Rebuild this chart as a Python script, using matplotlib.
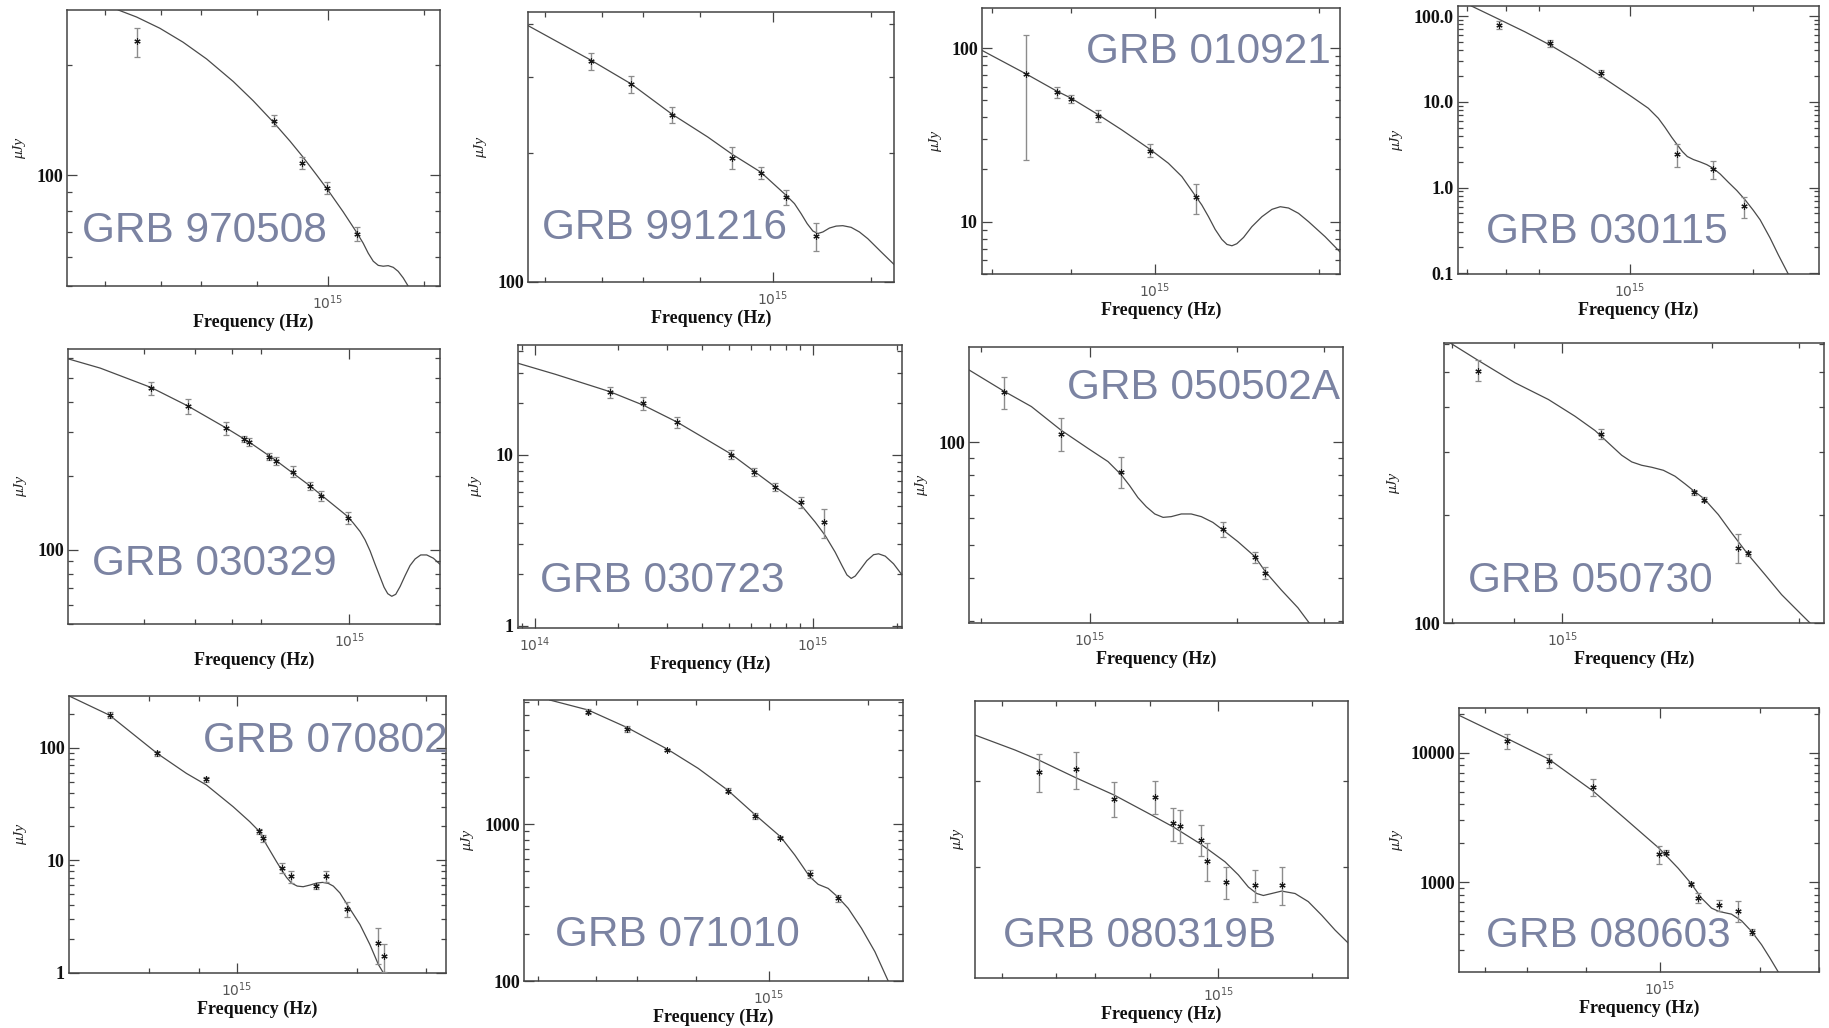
import numpy as np
import matplotlib
matplotlib.use("Agg")
import matplotlib.pyplot as plt
from matplotlib.ticker import FixedLocator, FixedFormatter, NullFormatter, LogLocator

# ---------------------------------------------------------------- data
grb_names = ["GRB 970508", "GRB 991216", "GRB 010921", "GRB 030115",
             "GRB 030329", "GRB 030723", "GRB 050502A", "GRB 050730",
             "GRB 070802", "GRB 071010", "GRB 080319B", "GRB 080603"]

# photometry: frequency (Hz), flux density (uJy), 1-sigma error (uJy)
nu_970508 = [2.51e14, 6.77e14, 8.29e14, 9.95e14, 1.23e15]
f_970508 = [231.6, 141, 108, 92.3, 69.3]
e_970508 = [21, 5, 4, 3.5, 3]

nu_991216 = [2.78e14, 3.68e14, 4.90e14, 7.51e14, 9.17e14, 1.099e15, 1.358e15]
f_991216 = [327, 289, 245.5, 195, 179.6, 157.8, 127.8]
e_991216 = [15, 13, 11, 11.5, 6, 6.3, 9.5]

nu_010921 = [5.78e14, 6.59e14, 7.0e14, 7.86e14, 9.79e14, 1.19e15]
f_010921 = [71.1, 55.7, 51.0, 40.7, 25.7, 13.8]
e_010921 = [48.5, 4.3, 3, 3, 2.2, 2.7]

nu_030115 = [4.80e14, 6.39e14, 8.49e14, 1.305e15, 1.591e15, 1.90e15]
f_030115 = [78.6, 48.1, 21.5, 2.47, 1.66, 0.611]
e_030115 = [8.5, 4.5, 2.1, 0.74, 0.39, 0.165]

nu_030329 = [2.12e14, 2.82e14, 3.82e14, 4.37e14, 4.57e14, 5.35e14, 5.61e14,
             6.42e14, 7.32e14, 7.99e14, 9.87e14]
f_030329 = [454, 383, 312, 282.6, 274, 239.4, 230, 208, 182, 165.8, 135.3]
e_030329 = [29, 26, 18, 9, 10, 7.5, 9.3, 11, 7.4, 8.3, 7.8]

nu_030723 = [1.86e14, 2.45e14, 3.24e14, 5.06e14, 6.14e14, 7.32e14, 9.08e14, 1.10e15]
f_030723 = [23.1, 19.9, 15.4, 10.0, 7.91, 6.46, 5.28, 4.03]
e_030723 = [1.8, 1.8, 1.2, 0.6, 0.4, 0.33, 0.4, 0.77]

nu_050502a = [6.68e14, 8.73e14, 1.16e15, 1.868e15, 2.17e15, 2.28e15]
f_050502a = [140.1, 105.8, 82.1, 55.6, 46.1, 41.4]
e_050502a = [15, 11.6, 8.4, 2.9, 1.7, 1.7]

nu_050730 = [6.77e14, 1.197e15, 1.845e15, 1.93e15, 2.257e15, 2.37e15]
f_050730 = [506, 337, 231.6, 220.9, 162, 156.5]
e_050730 = [34, 11.7, 4, 4, 14.7, 2.7]

nu_070802 = [4.77e14, 6.29e14, 8.37e14, 1.136e15, 1.159e15, 1.294e15, 1.364e15,
             1.579e15, 1.674e15, 1.895e15, 2.269e15, 2.35e15]
f_070802 = [197.6, 89.1, 52.4, 18.1, 15.7, 8.49, 7.16, 5.84, 7.16, 3.67, 1.83, 1.40]
e_070802 = [12, 4.6, 2.3, 1.0, 1.07, 0.87, 0.9, 0.28, 0.8, 0.56, 0.65, 0.38]

nu_071010 = [2.835e14, 3.73e14, 4.92e14, 7.50e14, 9.11e14, 1.085e15, 1.33e15, 1.615e15]
f_071010 = [5236, 4060, 2982, 1640, 1130, 822, 482, 337]
e_071010 = [210, 160, 60, 65, 45, 18, 28, 16]

nu_080319b = [2.64e14, 3.47e14, 4.62e14, 6.25e14, 7.16e14, 7.52e14, 8.79e14,
              9.22e14, 1.056e15, 1.313e15, 1.60e15]
f_080319b = [52.7, 53.5, 45.0, 45.5, 38.8, 38.3, 35.2, 31.1, 27.4, 26.9, 26.9]
e_080319b = [5.8, 5.8, 4.6, 4.5, 3.8, 3.8, 3.2, 3.5, 2.6, 2.5, 3.0]

nu_080603 = [3.49e14, 4.65e14, 6.31e14, 9.95e14, 1.047e15, 1.239e15, 1.303e15,
             1.503e15, 1.718e15, 1.884e15]
f_080603 = [12224, 8680, 5443, 1642, 1690, 971, 762, 662, 602, 412.5]
e_080603 = [1580, 1080, 790, 250, 80, 40, 68, 62, 110, 20]

# best-fit afterglow models (frequency in Hz, flux in uJy)
mnu_970508 = [2.20e14, 2.51e14, 2.97e14, 3.51e14, 4.16e14, 5.04e14, 5.82e14, 6.77e14,
              7.59e14, 8.29e14, 9.19e14, 1.0e15, 1.114e15, 1.23e15, 1.287e15, 1.335e15,
              1.384e15, 1.435e15, 1.487e15, 1.542e15, 1.599e15, 1.657e15, 1.718e15,
              1.79e15]
mf_970508 = [282, 269.9, 251.5, 230.5, 207.5, 180.2, 159.7, 138.9, 124.0, 112.9, 100.4,
             91.0, 79.6, 69.8, 65.4, 61.4, 58.4, 56.9, 56.6, 56.8, 56.2, 54.8, 52.6, 49.6]

mnu_991216 = [1.78e14, 2.78e14, 3.68e14, 4.90e14, 6.32e14, 7.51e14, 9.17e14, 1.099e15,
              1.165e15, 1.221e15, 1.274e15, 1.326e15, 1.373e15, 1.423e15, 1.491e15,
              1.563e15, 1.638e15, 1.737e15, 1.842e15, 1.953e15, 2.147e15, 2.35e15]
mf_991216 = [396, 328.6, 289.7, 246.5, 217.8, 198.5, 180.5, 159.2, 152.3, 144.3, 136.8,
             131.5, 129.7, 130.8, 133.6, 135.0, 135.3, 134.1, 130.8, 126.2, 117.5, 109.9]

mnu_010921 = [4.80e14, 5.78e14, 6.59e14, 7.0e14, 7.86e14, 8.68e14, 9.79e14, 1.058e15,
              1.12e15, 1.19e15, 1.219e15, 1.254e15, 1.29e15, 1.327e15, 1.356e15,
              1.385e15, 1.414e15, 1.455e15, 1.507e15, 1.573e15, 1.641e15, 1.70e15,
              1.761e15, 1.837e15, 1.917e15, 2.056e15, 2.19e15]
mf_010921 = [96.9, 71.1, 56.5, 51.5, 41.3, 33.8, 26.1, 21.7, 18.2, 13.9, 12.48, 10.69,
             9.03, 7.91, 7.40, 7.27, 7.47, 8.12, 9.36, 10.69, 11.78, 12.2, 11.99, 11.17,
             10.0, 8.2, 6.7]

mnu_030115 = [4.11e14, 4.80e14, 5.54e14, 6.39e14, 7.48e14, 8.49e14, 1.009e15, 1.109e15,
              1.173e15, 1.217e15, 1.264e15, 1.305e15, 1.342e15, 1.38e15, 1.428e15,
              1.482e15, 1.539e15, 1.591e15, 1.659e15, 1.738e15, 1.822e15, 1.909e15,
              2.0e15, 2.077e15, 2.197e15, 2.30e15, 2.43e15]
mf_030115 = [130.8, 91.5, 65.7, 45.9, 29.4, 20.0, 11.5, 8.4, 6.42, 5.05, 3.86, 3.14,
             2.63, 2.30, 2.12, 1.99, 1.85, 1.69, 1.44, 1.15, 0.923, 0.718, 0.54, 0.42,
             0.257, 0.164, 0.0987]

mnu_030329 = [1.107e14, 1.425e14, 2.12e14, 2.82e14, 3.82e14, 4.57e14, 5.61e14, 7.32e14,
              9.87e14, 1.032e15, 1.087e15, 1.130e15, 1.175e15, 1.222e15, 1.27e15,
              1.311e15, 1.349e15, 1.392e15, 1.436e15, 1.486e15, 1.545e15, 1.606e15,
              1.671e15, 1.746e15, 1.830e15, 1.928e15, 2.03e15]
mf_030329 = [597.6, 547.7, 457, 384.9, 312.4, 274, 231.5, 182.6, 136.6, 128.3, 118.7,
             109.8, 99.1, 87.4, 77.7, 70.5, 66.4, 64.8, 66.0, 71.0, 78.6, 86.4, 91.9,
             95.4, 95.4, 92.5, 87.4]

mnu_030723 = [8.71e13, 1.187e14, 1.86e14, 2.45e14, 3.24e14, 3.99e14, 5.06e14, 6.14e14,
              7.32e14, 9.08e14, 1.019e15, 1.106e15, 1.202e15, 1.271e15, 1.325e15,
              1.373e15, 1.419e15, 1.48e15, 1.563e15, 1.652e15, 1.722e15, 1.819e15,
              1.949e15, 2.09e15]
mf_030723 = [34.1, 29.4, 23.3, 19.45, 15.5, 12.7, 10.1, 7.99, 6.46, 5.05, 4.03, 3.37,
             2.69, 2.25, 1.98, 1.89, 1.95, 2.13, 2.40, 2.60, 2.63, 2.55, 2.30, 1.98]

mnu_050502a = [5.68e14, 6.68e14, 7.61e14, 8.73e14, 9.92e14, 1.09e15, 1.16e15, 1.206e15,
               1.254e15, 1.304e15, 1.357e15, 1.411e15, 1.466e15, 1.537e15, 1.61e15,
               1.688e15, 1.782e15, 1.868e15, 2.004e15, 2.17e15, 2.28e15, 2.455e15,
               2.655e15, 2.80e15]
mf_050502a = [162.8, 141.3, 127.2, 108.7, 96.0, 87.8, 80.3, 74.7, 68.9, 64.8, 61.7,
              60.3, 60.6, 61.7, 61.7, 60.6, 58.3, 55.4, 51.2, 46.3, 41.8, 37.0, 32.8, 29.6]

mnu_050730 = [5.94e14, 6.77e14, 8.03e14, 9.37e14, 1.06e15, 1.164e15, 1.248e15, 1.317e15,
              1.380e15, 1.445e15, 1.514e15, 1.598e15, 1.687e15, 1.768e15, 1.845e15,
              1.93e15, 2.063e15, 2.195e15, 2.37e15, 2.563e15, 2.768e15, 2.99e15, 3.158e15]
mf_050730 = [604, 539.6, 467.6, 420.2, 377.4, 344.1, 314.6, 293.7, 281.4, 275.4, 271.9,
             266.7, 256.7, 244.3, 233.0, 222.3, 200.6, 178.3, 155.1, 136.4, 119.96, 107.8,
             100]

mnu_070802 = [3.77e14, 4.77e14, 6.29e14, 7.45e14, 8.37e14, 9.77e14, 1.076e15, 1.136e15,
              1.186e15, 1.256e15, 1.294e15, 1.332e15, 1.371e15, 1.417e15, 1.467e15,
              1.525e15, 1.585e15, 1.642e15, 1.697e15, 1.747e15, 1.816e15, 1.895e15,
              2.04e15, 2.161e15, 2.269e15, 2.336e15]
mf_070802 = [289.4, 195, 89.1, 59.2, 46.6, 29.9, 22.0, 18.1, 13.7, 9.73, 8.21, 7.02,
             6.25, 5.88, 5.80, 6.0, 6.25, 6.34, 6.21, 5.88, 5.10, 4.01, 2.67, 1.77, 1.18,
             0.993]

mnu_071010 = [2.17e14, 2.835e14, 3.73e14, 4.92e14, 6.11e14, 7.50e14, 9.11e14, 1.085e15,
              1.199e15, 1.33e15, 1.411e15, 1.513e15, 1.615e15, 1.74e15, 1.909e15,
              2.096e15, 2.30e15]
mf_071010 = [6217, 5369, 4140, 3026, 2277, 1656, 1147, 834, 637, 463.4, 414, 390, 345.3,
             291, 217, 153.9, 100]

mnu_080319b = [1.64e14, 2.21e14, 2.64e14, 3.47e14, 4.62e14, 5.95e14, 7.16e14, 8.79e14,
               1.051e15, 1.16e15, 1.25e15, 1.33e15, 1.397e15, 1.486e15, 1.60e15,
               1.768e15, 1.95e15, 2.155e15, 2.38e15, 2.62e15]
mf_080319b = [65.6, 60.0, 56.5, 50.9, 45.9, 41.2, 38.0, 34.3, 30.9, 28.6, 26.6, 25.6,
              25.3, 25.6, 25.97, 25.6, 24.4, 22.5, 20.6, 19.1]

mnu_080603 = [2.50e14, 3.49e14, 4.65e14, 6.31e14, 7.85e14, 9.95e14, 1.135e15, 1.239e15,
              1.334e15, 1.429e15, 1.503e15, 1.64e15, 1.758e15, 1.884e15, 2.018e15,
              2.138e15, 2.265e15]
mf_080603 = [19373, 12814, 8886, 5042, 3107, 1826, 1281, 982, 753, 631, 595, 567, 504,
             417, 329.6, 260.3, 203]

# axis ranges and labelled ticks
xlims = [(1.52e14, 2.24e15), (1.78e14, 2.35e15), (4.80e14, 2.19e15), (3.81e14, 2.89e15),
         (1.107e14, 2.03e15), (8.71e13, 2.09e15), (5.68e14, 3.28e15), (5.77e14, 3.37e15),
         (3.77e14, 3.36e15), (1.814e14, 2.55e15), (1.64e14, 2.62e15), (2.50e14, 3.0e15)]
ylims = [(50, 282), (100, 426), (5, 170), (0.098, 131),
         (50, 655), (0.97, 43.6), (29.6, 190), (100, 604),
         (0.99, 289), (100, 6217), (15.5, 80.3), (203, 22060)]
ytick_vals = [[100], [100], [10, 100], [0.1, 1, 10, 100],
              [100], [1, 10], [100], [100],
              [1, 10, 100], [100, 1000], [], [1000, 10000]]
ytick_text = [["100"], ["100"], ["10", "100"], ["0.1", "1.0", "10.0", "100.0"],
              ["100"], ["1", "10"], ["100"], ["100"],
              ["1", "10", "100"], ["100", "1000"], [], ["1000", "10000"]]
xminor_vals = [[2e14, 3e14, 4e14, 6e14, 2e15], [2e14, 3e14, 4e14, 6e14, 2e15],
               [5e14, 7e14, 2e15], [4e14, 5e14, 6e14, 2e15],
               [2e14, 3e14, 4e14, 5e14], None,
               [6e14, 2e15, 3e15], [6e14, 8e14, 2e15, 3e15],
               [6e14, 8e14, 2e15, 3e15], [2e14, 3e14, 4e14, 6e14, 2e15],
               [2e14, 3e14, 4e14, 6e14, 2e15], [3e14, 4e14, 6e14, 2e15, 3e15]]

phot = [(nu_970508, f_970508, e_970508), (nu_991216, f_991216, e_991216),
        (nu_010921, f_010921, e_010921), (nu_030115, f_030115, e_030115),
        (nu_030329, f_030329, e_030329), (nu_030723, f_030723, e_030723),
        (nu_050502a, f_050502a, e_050502a), (nu_050730, f_050730, e_050730),
        (nu_070802, f_070802, e_070802), (nu_071010, f_071010, e_071010),
        (nu_080319b, f_080319b, e_080319b), (nu_080603, f_080603, e_080603)]
models = [(mnu_970508, mf_970508), (mnu_991216, mf_991216), (mnu_010921, mf_010921),
          (mnu_030115, mf_030115), (mnu_030329, mf_030329), (mnu_030723, mf_030723),
          (mnu_050502a, mf_050502a), (mnu_050730, mf_050730), (mnu_070802, mf_070802),
          (mnu_071010, mf_071010), (mnu_080319b, mf_080319b), (mnu_080603, mf_080603)]

# ---------------------------------------------------------------- layout (pixels)
W, H = 1829, 1028
boxes = [(67, 10, 440, 286), (528, 12, 894, 282), (982, 8, 1340, 274), (1458, 6, 1819, 274),
         (68, 349, 440, 624), (518, 345, 902, 628), (969, 347, 1343, 623), (1444, 343, 1824, 623),
         (69, 696, 446, 973), (524, 700, 903, 981), (975, 701, 1348, 978), (1459, 708, 1819, 972)]
ylabel_x = [20, 481, 936, 1397, 21, 476, 922, 1394, 21, 468, 958, 1397]
name_pos = [(82, 242), (542, 239), (1086, 63), (1486, 243),
            (92, 575), (540, 592), (1067, 399), (1468, 592),
            (203, 752), (555, 946), (1003, 947), (1486, 947)]

plt.rcParams["mathtext.fontset"] = "custom"
plt.rcParams["mathtext.rm"] = "Liberation Sans"
plt.rcParams["lines.solid_joinstyle"] = "round"

fig = plt.figure(figsize=(W / 100, H / 100), dpi=100)
fig.patch.set_facecolor("white")

frame_col = "#444444"
serif = "Liberation Serif"

for i in range(12):
    x0, y0, x1, y1 = boxes[i]
    ax = fig.add_axes([x0 / W, 1 - y1 / H, (x1 - x0) / W, (y1 - y0) / H])
    ax.set_xscale("log")
    ax.set_yscale("log")

    mnu, mf = models[i]
    ax.plot(mnu, mf, color="#4a4a4a", lw=0.9, zorder=2)

    nu, f, e = phot[i]
    ax.errorbar(nu, f, yerr=e, fmt="none", ecolor="#8c8c8c", elinewidth=1.0,
                capsize=2.2, capthick=0.9, zorder=3)
    ax.plot(nu, f, ls="none", marker=(6, 2, 0), ms=4.5, mew=0.8,
            color="#1a1a1a", zorder=4)

    ax.set_xlim(*xlims[i])
    ax.set_ylim(*ylims[i])

    # x axis: decade labels plus sparse minor ticks
    if i == 5:
        ax.xaxis.set_major_locator(FixedLocator([1e14, 1e15]))
        ax.xaxis.set_major_formatter(FixedFormatter([r"$\mathregular{10^{14}}$",
                                                     r"$\mathregular{10^{15}}$"]))
        ax.xaxis.set_minor_locator(LogLocator(base=10, subs=np.arange(2, 10), numticks=20))
    else:
        ax.xaxis.set_major_locator(FixedLocator([1e15]))
        ax.xaxis.set_major_formatter(FixedFormatter([r"$\mathregular{10^{15}}$"]))
        ax.xaxis.set_minor_locator(FixedLocator(xminor_vals[i]))
    ax.xaxis.set_minor_formatter(NullFormatter())

    # y axis
    ax.yaxis.set_major_locator(FixedLocator(ytick_vals[i]))
    ax.yaxis.set_major_formatter(FixedFormatter(ytick_text[i]))
    if i == 10:
        ax.yaxis.set_minor_locator(FixedLocator([30, 50]))
    else:
        ax.yaxis.set_minor_locator(LogLocator(base=10, subs=np.arange(2, 10), numticks=20))
    ax.yaxis.set_minor_formatter(NullFormatter())

    ax.tick_params(which="both", direction="in", top=True, right=True,
                   color=frame_col, width=0.9)
    ax.tick_params(which="major", length=7)
    ax.tick_params(which="minor", length=3.5)
    ax.tick_params(axis="x", which="major", pad=5, labelsize=10, labelcolor="#555555")
    ax.tick_params(axis="y", which="major", pad=3, labelsize=13, labelcolor="#111111")
    for lab in ax.get_yticklabels():
        lab.set_fontfamily(serif)
        lab.set_fontweight("bold")

    for sp in ax.spines.values():
        sp.set_color(frame_col)
        sp.set_linewidth(1.1)

    # axis titles
    fig.text((x0 + x1) / 2 / W, 1 - (y1 + 36) / H, "Frequency (Hz)", ha="center",
             va="center", fontsize=13, fontweight="bold", family=serif, color="#111111")
    fig.text(ylabel_x[i] / W, 1 - (y0 + y1) / 2 / H, "\u03bcJy", rotation=90,
             ha="center", va="center", fontsize=11, style="italic", family=serif,
             color="#222222")

    # burst name
    nx, ny = name_pos[i]
    fig.text(nx / W, 1 - ny / H, grb_names[i], ha="left", va="baseline", fontsize=30.5,
             family="Liberation Sans", color="#7b83a2", zorder=10)

fig.savefig("out.png", dpi=100, facecolor="white")
